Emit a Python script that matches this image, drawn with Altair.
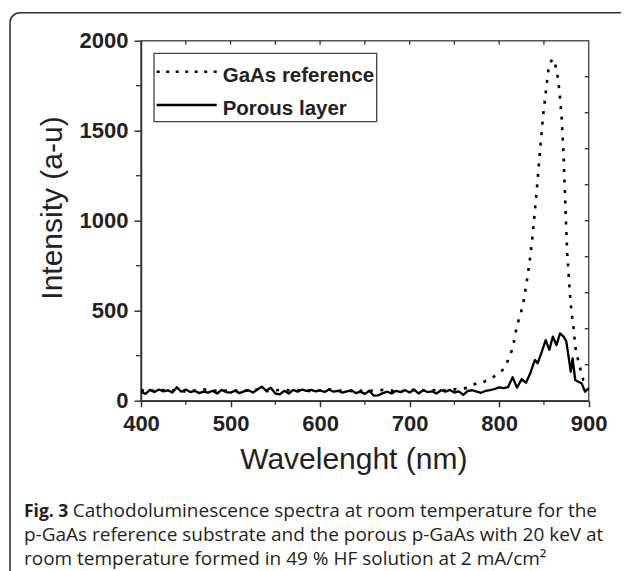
import altair as alt
import pandas as pd

# ---------------- data ----------------
porous_wl = [400, 405, 410, 415, 420, 425, 430, 435, 440, 445,
             450, 455, 460, 465, 470, 475, 480, 485, 490, 495,
             500, 505, 510, 515, 520, 525, 530, 535, 540, 545,
             550, 555, 560, 565, 570, 575, 580, 585, 590, 595,
             600, 605, 610, 615, 620, 625, 630, 635, 640, 645,
             650, 655, 660, 665, 670, 675, 680, 685, 690, 695,
             700, 705, 710, 715, 720, 725, 730, 735, 740, 745,
             750, 755, 760, 765, 770, 775, 780, 785, 790, 795,
             800, 805, 810, 815, 820, 825, 830, 835, 838, 840,
             843, 847, 852, 856, 860, 864, 868, 872, 875, 877,
             880, 882, 885, 888, 892, 896, 900]
porous_int = [50, 38, 60, 48, 62, 52, 58, 45, 75, 50,
              62, 48, 55, 42, 50, 45, 55, 40, 60, 48,
              45, 55, 42, 52, 58, 45, 62, 78, 55, 72,
              40, 35, 55, 40, 60, 50, 62, 55, 60, 52,
              58, 48, 62, 50, 55, 45, 52, 58, 42, 50,
              38, 55, 28, 30, 42, 50, 40, 55, 48, 58,
              45, 62, 40, 58, 48, 52, 40, 58, 50, 60,
              45, 52, 32, 55, 58, 50, 44, 55, 59, 65,
              74, 70, 76, 130, 72, 119, 100, 155, 200, 226,
              208, 263, 337, 282, 356, 309, 374, 356, 330, 263,
              161, 235, 115, 106, 97, 50, 69]

ref_wl = [400, 410, 420, 430, 440, 450, 460, 470, 480, 490,
          500, 510, 520, 530, 540, 550, 560, 570, 580, 590,
          600, 610, 620, 630, 640, 650, 660, 670, 680, 690,
          700, 710, 720, 730, 740, 750, 760, 765, 770, 775,
          780, 785, 790, 795, 800, 805, 810, 815, 820, 824,
          828, 832, 835, 838, 842, 846, 849, 852, 855, 858,
          860, 863, 866, 868, 870, 872, 874, 876, 879, 881,
          883, 885, 887, 890, 892, 894, 897, 900]
ref_int = [58, 52, 62, 55, 60, 50, 57, 63, 54, 59,
           52, 60, 56, 62, 53, 58, 61, 55, 60, 52,
           58, 63, 55, 57, 50, 59, 54, 60, 56, 52,
           58, 62, 55, 60, 57, 63, 68, 72, 85, 97,
           97, 110, 118, 137, 155, 175, 226, 290, 420, 480,
           570, 700, 810, 948, 1171, 1411, 1578, 1710, 1837, 1885,
           1900, 1860, 1782, 1680, 1559, 1360, 1078, 819, 597, 485,
           411, 300, 250, 189, 152, 115, 106, 100]

x_ticks = [400, 500, 600, 700, 800, 900]
x_minor = [450, 550, 650, 750, 850]
x_top_ticks = [450, 500, 550, 600, 650, 700, 750, 800, 850]
y_ticks = [0, 500, 1000, 1500, 2000]
y_minor = [250, 750, 1250, 1750]
y_right_ticks = [200, 400, 600, 800, 1000, 1200, 1400, 1600, 1800]

series_names = ["GaAs reference", "Porous layer"]
x_title = "Wavelenght (nm)"
y_title = "Intensity (a-u)"
caption_bold = "Fig. 3"
caption_lines = [
    "Cathodoluminescence spectra at room temperature for the",
    "p-GaAs reference substrate and the porous p-GaAs with 20 keV at",
    "room temperature formed in 49 % HF solution at 2 mA/cm\u00b2",
]

# ---------------- layout ----------------
W, H = 447.7, 360
FONT = "Liberation Sans"
INK = "#222222"

ref_df = pd.DataFrame({"wl": ref_wl, "I": ref_int})
por_df = pd.DataFrame({"wl": porous_wl, "I": porous_int})
one = pd.DataFrame({"k": [0]})

x_enc = alt.X(
    "wl:Q",
    scale=alt.Scale(domain=[400, 900], nice=False, zero=False),
    axis=alt.Axis(
        values=x_ticks, title=x_title, grid=False, format="d",
        tickSize=6, tickWidth=1.5, tickColor="#333333",
        domainColor="#333333", domainWidth=1.5,
        labelFont=FONT, labelFontWeight="bold", labelFontSize=22,
        labelColor=INK, labelPadding=6.5, labelFlush=False,
        titleFont=FONT, titleFontSize=30, titleFontWeight="normal",
        titleColor=INK, titleX=212.3, titleY=67.6,
        titleAlign="center", titleBaseline="alphabetic",
    ),
)
y_enc = alt.Y(
    "I:Q",
    scale=alt.Scale(domain=[0, 2000], nice=False),
    axis=alt.Axis(
        values=y_ticks, title=y_title, grid=False, format="d",
        tickSize=7, tickWidth=1.5, tickColor="#333333",
        domainColor="#333333", domainWidth=1.5,
        labelFont=FONT, labelFontWeight="bold", labelFontSize=22,
        labelColor=INK, labelPadding=6, labelFlush=False,
        titleFont=FONT, titleFontSize=30, titleFontWeight="normal",
        titleColor=INK, titleX=-79.5, titleY=166.8, titleAngle=270,
        titleAlign="center", titleBaseline="alphabetic",
    ),
)

ref_line = alt.Chart(ref_df).mark_line(
    color="black", strokeWidth=2.6, strokeDash=[3, 7.5], strokeCap="butt"
).encode(x=x_enc, y=y_enc)

por_line = alt.Chart(por_df).mark_line(
    color="black", strokeWidth=2.3, strokeJoin="round"
).encode(x=x_enc, y=y_enc)

# minor / mirror ticks drawn through the shared scales
bottom_minor = alt.Chart(pd.DataFrame({"wl": x_minor})).mark_rule(
    color="#333333", strokeWidth=1.3
).encode(x=x_enc, y=alt.value(H), y2=alt.value(H + 4))
top_ticks = alt.Chart(pd.DataFrame({"wl": x_top_ticks})).mark_rule(
    color="#333333", strokeWidth=1.3
).encode(x=x_enc, y=alt.value(0), y2=alt.value(4))
left_minor = alt.Chart(pd.DataFrame({"I": y_minor})).mark_rule(
    color="#333333", strokeWidth=1.3
).encode(y=y_enc, x=alt.value(-5), x2=alt.value(0))
right_ticks = alt.Chart(pd.DataFrame({"I": y_right_ticks})).mark_rule(
    color="#333333", strokeWidth=1.3
).encode(y=y_enc, x=alt.value(W - 4), x2=alt.value(W))

# legend box
legend_box = alt.Chart(one).mark_rect(
    fill="white", stroke="#444444", strokeWidth=1.3
).encode(x=alt.value(13), x2=alt.value(235.7), y=alt.value(12.6), y2=alt.value(81))
legend_dot = alt.Chart(one).mark_rule(
    color="black", strokeWidth=2.6, strokeDash=[3, 6.5], strokeCap="butt"
).encode(x=alt.value(15.7), x2=alt.value(75.7), y=alt.value(31))
legend_solid = alt.Chart(one).mark_rule(
    color="black", strokeWidth=2.3
).encode(x=alt.value(15.7), x2=alt.value(75.7), y=alt.value(64.3))
legend_t1 = alt.Chart(one).mark_text(
    align="left", baseline="alphabetic", font=FONT, fontWeight="bold",
    fontSize=20.5, color=INK
).encode(x=alt.value(81.7), y=alt.value(41), text=alt.value(series_names[0]))
legend_t2 = alt.Chart(one).mark_text(
    align="left", baseline="alphabetic", font=FONT, fontWeight="bold",
    fontSize=20.5, color=INK
).encode(x=alt.value(81.7), y=alt.value(74.3), text=alt.value(series_names[1]))

# figure frame (top edge, left edge, rounded top-left corner)
FRAME_C = "#333333"
frame_top = alt.Chart(one).mark_rule(color=FRAME_C, strokeWidth=1.6).encode(
    x=alt.value(-121), x2=alt.value(W + 60), y=alt.value(-28)
)
frame_left = alt.Chart(one).mark_rule(color=FRAME_C, strokeWidth=1.6).encode(
    x=alt.value(-131), y=alt.value(-18), y2=alt.value(H + 200)
)
frame_corner = alt.Chart(one).mark_arc(
    innerRadius=9.2, outerRadius=10.8, theta=4.7124, theta2=6.2832, color=FRAME_C
).encode(x=alt.value(-121), y=alt.value(-18))

CAP_FONT = "Open Sans"
CAP_COLOR = "#231f20"
cap_bold = alt.Chart(one).mark_text(
    align="left", baseline="alphabetic", font=CAP_FONT, fontWeight="bold",
    fontSize=17.5, color=CAP_COLOR
).encode(x=alt.value(-117), y=alt.value(476.3), text=alt.value(caption_bold))
cap_l1 = alt.Chart(one).mark_text(
    align="left", baseline="alphabetic", font=CAP_FONT, fontSize=19, color=CAP_COLOR
).encode(x=alt.value(-68.3), y=alt.value(476.3), text=alt.value(caption_lines[0]))
cap_l2 = alt.Chart(one).mark_text(
    align="left", baseline="alphabetic", font=CAP_FONT, fontSize=19, color=CAP_COLOR
).encode(x=alt.value(-117), y=alt.value(500.8), text=alt.value(caption_lines[1]))
cap_l3 = alt.Chart(one).mark_text(
    align="left", baseline="alphabetic", font=CAP_FONT, fontSize=19, color=CAP_COLOR
).encode(x=alt.value(-117), y=alt.value(524.8), text=alt.value(caption_lines[2]))

chart = alt.layer(
    frame_top, frame_left, frame_corner,
    ref_line, por_line, bottom_minor, top_ticks, left_minor, right_ticks,
    legend_box, legend_dot, legend_solid, legend_t1, legend_t2,
    cap_bold, cap_l1, cap_l2, cap_l3,
).properties(
    width=W, height=H,
    autosize=alt.AutoSizeParams(type="none"),
    padding={"left": 133, "top": 32.7, "right": 32, "bottom": 170.3},
    background="white",
).configure_view(
    stroke="#555555", strokeWidth=1.5
)

chart.save("out.html", embed_options={"renderer": "svg", "actions": False})
